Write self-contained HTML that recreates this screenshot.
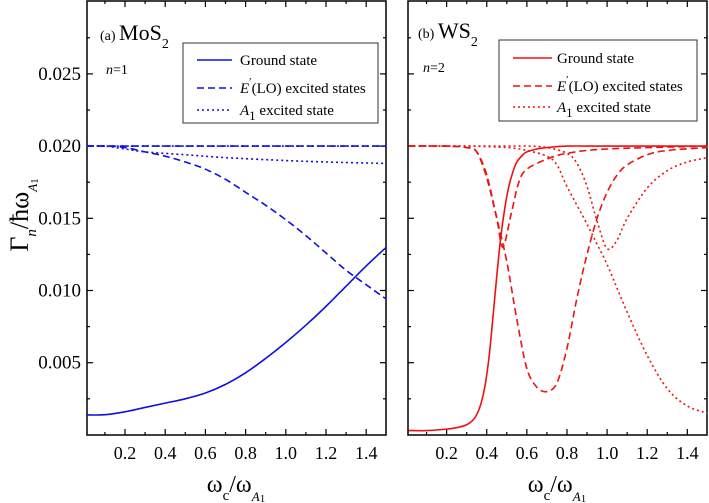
<!DOCTYPE html>
<html><head><meta charset="utf-8"><style>
html,body{margin:0;padding:0;background:#fff;}
svg{display:block;font-family:"Liberation Serif",serif;}
svg text{font-family:"Liberation Serif",serif;}
</style></head><body>
<svg id="chart" width="709" height="503" viewBox="0 0 709 503" font-family="Liberation Serif, serif"></svg>
<script>
// ---- data ----
const xTicks = [0.2,0.4,0.6,0.8,1.0,1.2,1.4];
const yTicks = [0.005,0.010,0.015,0.020,0.025];
const yTickLabels = ["0.005","0.010","0.015","0.020","0.025"];
// panel a (MoS2)
const aGroundX = [0.01,0.1,0.2,0.3,0.4,0.5,0.6,0.7,0.8,0.9,1.0,1.1,1.2,1.3,1.4,1.5];
const aGroundY = [0.00138,0.0014,0.0016,0.0019,0.0022,0.0025,0.0029,0.0035,0.0043,0.0053,0.0064,0.0076,0.0089,0.0103,0.0117,0.0130];
const aE1X = [0.01,0.1,0.2,0.3,0.4,0.5,0.6,0.7,0.8,0.9,1.0,1.1,1.2,1.3,1.4,1.5];
const aE1Y = [0.0200,0.0200,0.0199,0.0196,0.0193,0.0189,0.0184,0.0177,0.0168,0.0159,0.0149,0.0138,0.0126,0.0114,0.0104,0.0094];
const aE2X = [0.01,1.5];
const aE2Y = [0.0200,0.0200];
const aA1X = [0.01,1.5];
const aA1Y = [0.0200,0.0200];
const aA2X = [0.01,0.1,0.2,0.3,0.5,0.7,1.0,1.2,1.5];
const aA2Y = [0.0200,0.0200,0.0198,0.0196,0.0194,0.0192,0.0190,0.0189,0.0188];
// panel b (WS2)
const bGroundX = [0.01,0.1,0.2,0.25,0.3,0.33,0.35,0.37,0.39,0.41,0.43,0.45,0.47,0.49,0.51,0.53,0.55,0.58,0.6,0.65,0.7,0.8,1.0,1.5];
const bGroundY = [0.0003,0.0003,0.0004,0.0005,0.0007,0.0010,0.0014,0.0021,0.0033,0.0052,0.0080,0.0110,0.0137,0.0157,0.0172,0.0182,0.0189,0.0194,0.0196,0.0198,0.0199,0.0200,0.0200,0.0200];
const bE1X = [0.01,0.2,0.3,0.35,0.4,0.45,0.48,0.52,0.56,0.6,0.7,0.8,1.0,1.5];
const bE1Y = [0.0200,0.0200,0.0199,0.0196,0.0180,0.0150,0.0130,0.0152,0.0175,0.0184,0.0191,0.0195,0.0198,0.0200];
const bE2X = [0.01,0.2,0.3,0.35,0.4,0.45,0.5,0.55,0.6,0.65,0.7,0.75,0.8,0.85,0.9,0.95,1.0,1.05,1.1,1.2,1.3,1.5];
const bE2Y = [0.0200,0.0200,0.0199,0.0196,0.0178,0.0150,0.0120,0.0080,0.0046,0.0033,0.0030,0.0036,0.0060,0.0095,0.0125,0.0150,0.0168,0.0180,0.0187,0.0194,0.0197,0.0199];
const bA1X = [0.01,0.3,0.5,0.6,0.7,0.75,0.8,0.9,0.95,1.0,1.1,1.2,1.3,1.4,1.5];
const bA1Y = [0.0200,0.0200,0.0199,0.0197,0.0193,0.0187,0.0172,0.0146,0.0132,0.0118,0.0085,0.0055,0.0032,0.0020,0.0015];
const bA2X = [0.01,0.3,0.6,0.7,0.8,0.85,0.9,0.95,1.0,1.05,1.1,1.2,1.3,1.4,1.5];
const bA2Y = [0.0200,0.0200,0.0200,0.0199,0.0195,0.0188,0.0172,0.0148,0.0129,0.0135,0.0150,0.0171,0.0183,0.0189,0.0192];

const NS="http://www.w3.org/2000/svg";
const svg=document.getElementById('chart');
const FF='Liberation Serif, serif';
function el(tag,attrs,parent){const e=document.createElementNS(NS,tag);for(const k in attrs)e.setAttribute(k,attrs[k]);if(tag==='text')e.setAttribute('font-family',FF);(parent||svg).appendChild(e);return e;}

const yTop=1, yBot=435;
function ys(v){return 434.9 - v/0.005*72.2;}
function makePanel(x0px, x1px, xAt0, pxPerUnit, name, showY){
  const g=el('g',{});
  
  
  const xs=v=>xAt0+v*pxPerUnit;
  for(let i=1;i<=15;i++){
    const v=i*0.1, x=xs(v); if(x>x1px-1) continue;
    const len = (i%2===0)?6:3;
    el('line',{x1:x,y1:yBot,x2:x,y2:yBot-len,stroke:'#000','stroke-width':1.2},g);
    el('line',{x1:x,y1:yTop,x2:x,y2:yTop+len,stroke:'#000','stroke-width':1.2},g);
  }
  for(let i=1;i<=12;i++){
    const v=i*0.0025, y=ys(v); if(y<yTop+1) continue;
    const len=(i%2===0)?6:3;
    el('line',{x1:x0px,y1:y,x2:x0px+len,y2:y,stroke:'#000','stroke-width':1.2},g);
    el('line',{x1:x1px,y1:y,x2:x1px-len,y2:y,stroke:'#000','stroke-width':1.2},g);
  }
  xTicks.forEach(v=>{
    const t=el('text',{x:xs(v),y:459,'text-anchor':'middle','font-size':18},g);t.textContent=v.toFixed(1);
    
    
  });
  if(showY){
    yTicks.forEach((v,i)=>{
      const t=el('text',{x:81,y:ys(v)+6,'text-anchor':'end','font-size':19},g);t.textContent=yTickLabels[i];
      
      
    });
  }
  el('rect',{x:x0px,y:yTop,width:x1px-x0px,height:yBot-yTop,fill:'none',stroke:'#000','stroke-width':1.5},g);
  return {g,xs};
}
function series(p,X,Y,color,dash,name,w){
  const P=X.map((x,i)=>[p.xs(x),ys(Y[i])]);
  let d='M'+P[0][0].toFixed(2)+' '+P[0][1].toFixed(2);
  for(let i=0;i<P.length-1;i++){
    const p0=P[Math.max(0,i-1)],p1=P[i],p2=P[i+1],p3=P[Math.min(P.length-1,i+2)];
    const c1=[p1[0]+(p2[0]-p0[0])/6,p1[1]+(p2[1]-p0[1])/6];
    const c2=[p2[0]-(p3[0]-p1[0])/6,p2[1]-(p3[1]-p1[1])/6];
    d+=' C'+c1[0].toFixed(2)+' '+c1[1].toFixed(2)+' '+c2[0].toFixed(2)+' '+c2[1].toFixed(2)+' '+p2[0].toFixed(2)+' '+p2[1].toFixed(2);
  }
  const a={d:d,fill:'none',stroke:color,'stroke-width':w||1.6,'stroke-linejoin':'round'};
  if(dash) a['stroke-dasharray']=dash;
  const e=el('path',a,p.g);
  
  
}
function legend(p,bx,by,bw,bh,lx1,lx2,tx,rows,color,name){
  const g=el('g',{},p.g);
  
  
  el('rect',{x:bx,y:by,width:bw,height:bh,fill:'#fff',stroke:'#333','stroke-width':1},g);
  const dashes=[null,'7,4','2,3'];
  rows.forEach((r,i)=>{
    const a={x1:lx1,y1:r.y,x2:lx2,y2:r.y,stroke:color,'stroke-width':1.6};
    if(dashes[i])a['stroke-dasharray']=dashes[i];
    el('line',a,g);
    const t=el('text',{x:tx,y:r.y+5,'font-size':15},g);
    t.innerHTML=r.html;
  });
}
const rowsHTML=[
 '<tspan>Ground state</tspan>',
 '<tspan font-style="italic">E</tspan><tspan dy="-8" font-size="11">′</tspan><tspan dy="8">(LO) excited states</tspan>',
 '<tspan font-style="italic">A</tspan><tspan dy="5" font-size="13">1</tspan><tspan dy="-5"> excited state</tspan>'
];

// Panel a
const pa=makePanel(87,386,84.8,201,'panel-a-mos2',true);
const blue='#1010e0';
series(pa,aGroundX,aGroundY,blue,null,'mos2-ground-state');
series(pa,aE1X,aE1Y,blue,'7,4','mos2-e-lo-excited-1');
series(pa,aE2X,aE2Y,blue,'7,4','mos2-e-lo-excited-2');
series(pa,aA1X,aA1Y,blue,'2,3','mos2-a1-excited-1');
series(pa,aA2X,aA2Y,blue,'2,3','mos2-a1-excited-2');
legend(pa,183,43,195,80,197,232,240,[{y:60,html:rowsHTML[0]},{y:88,html:rowsHTML[1]},{y:110,html:rowsHTML[2]}],blue,'legend-a');
let t=el('text',{x:100,y:40,'font-size':14},pa.g);t.innerHTML='(a) <tspan font-size="22">MoS</tspan><tspan font-size="14" dy="8">2</tspan>';

t=el('text',{x:106,y:74,'font-size':14},pa.g);t.innerHTML='<tspan font-style="italic">n</tspan>=1';


// Panel b
const pb=makePanel(408,707,406.5,200.6,'panel-b-ws2',false);
const red='#ee1111';
series(pb,bGroundX,bGroundY,red,null,'ws2-ground-state');
series(pb,bE1X,bE1Y,red,'7,4','ws2-e-lo-excited-1');
series(pb,bE2X,bE2Y,red,'7,4','ws2-e-lo-excited-2');
series(pb,bA1X,bA1Y,red,'2,3','ws2-a1-excited-1');
series(pb,bA2X,bA2Y,red,'2,3','ws2-a1-excited-2');
legend(pb,499,40,198,81,513,552,557,[{y:58,html:rowsHTML[0]},{y:86,html:rowsHTML[1]},{y:107,html:rowsHTML[2]}],red,'legend-b');
t=el('text',{x:418,y:38,'font-size':14},pb.g);t.innerHTML='(b) <tspan font-size="22">WS</tspan><tspan font-size="14" dy="8">2</tspan>';

t=el('text',{x:423,y:72,'font-size':14},pb.g);t.innerHTML='<tspan font-style="italic">n</tspan>=2';


// axis titles
[[236,'x-axis-title-a'],[557,'x-axis-title-b']].forEach(([cx,nm])=>{
  const e=el('text',{x:cx,y:492,'text-anchor':'middle','font-size':24});
  e.innerHTML='ω<tspan font-size="15" dy="8">c</tspan><tspan dy="-8">/ω</tspan><tspan font-size="13" font-style="italic" dy="9">A</tspan><tspan font-size="11" dy="1">1</tspan>';
  
  
});
const yt=el('text',{x:0,y:0,'text-anchor':'middle','font-size':26,transform:'translate(28,215) rotate(-90)'});
yt.innerHTML='Γ<tspan font-size="15" font-style="italic" dy="8">n</tspan><tspan dy="-8">/ħω</tspan><tspan font-size="13" font-style="italic" dy="9">A</tspan><tspan font-size="11" dy="1">1</tspan>';


</script>
</body></html>
